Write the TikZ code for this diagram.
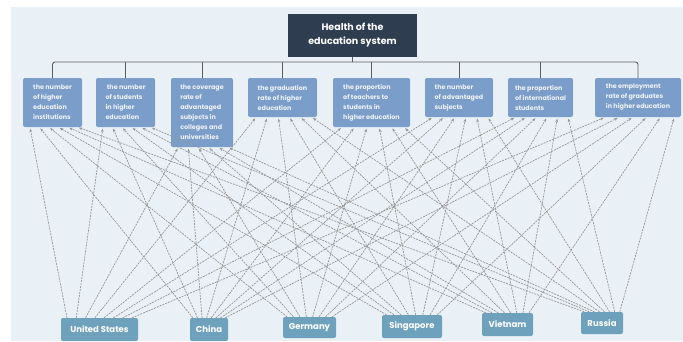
\documentclass[tikz,border=0pt]{standalone}
\usepackage{fontspec}
\setmainfont{Poppins}
\usetikzlibrary{arrows.meta,calc}

\definecolor{panel}{HTML}{EAF1F6}
\definecolor{rootfill}{HTML}{2F3D50}
\definecolor{indfill}{HTML}{7B9DC9}
\definecolor{ctyfill}{HTML}{6EA2BC}
\definecolor{linkgray}{HTML}{959595}
\definecolor{treegray}{HTML}{585D63}

\tikzset{
  rootbox/.style={fill=rootfill, text=white, align=center, inner sep=0pt,
    font=\bfseries\fontsize{9.5}{14}\selectfont,
    minimum width=129pt, minimum height=43pt},
  indbox/.style={fill=indfill, rounded corners=2pt, text=white!88!indfill,
    align=left, inner sep=0pt, font=\bfseries\fontsize{6.4}{10}\selectfont},
  ctybox/.style={fill=ctyfill, rounded corners=2pt, text=white, inner sep=0pt,
    font=\bfseries\fontsize{8.5}{10}\selectfont},
  treeline/.style={draw=treegray, line width=0.9pt, rounded corners=2.5pt},
  linkline/.style={draw=linkgray, line width=0.7pt, dash pattern=on 2pt off 1pt,
    shorten >=1.5pt, -{Stealth[length=3.5pt,width=2.8pt]}},
}

\begin{document}
\begin{tikzpicture}[x=1pt,y=-1pt]
\useasboundingbox (0,0) rectangle (683,341);
\fill[panel] (11,7) rectangle (683,341);

% root
\node[rootbox] (root) at (352.5,35.5) {Health of the\\education system};

% indicators
\node[indbox, minimum width=59pt, minimum height=49pt] (i1) at (52.5,102.5)
  {the number\\of higher\\education\\institutions};
\node[indbox, minimum width=59pt, minimum height=49pt] (i2) at (125.5,102.5)
  {\ the number\\of students\\in higher\\education};
\node[indbox, minimum width=62pt, minimum height=69pt] (i3) at (202,112.5)
  {the coverage\\rate of\\advantaged\\subjects in\\colleges and\\universities};
\node[indbox, minimum width=69pt, minimum height=39pt] (i4) at (282.5,97.5)
  {the graduation\\rate of higher\\education};
\node[indbox, minimum width=77pt, minimum height=49pt] (i5) at (371.5,102.5)
  {the proportion\\of teachers to\\students in\\higher education};
\node[indbox, minimum width=68pt, minimum height=39pt] (i6) at (459,97.5)
  {the number\\of advantaged\\subjects};
\node[indbox, minimum width=65pt, minimum height=39pt] (i7) at (540.5,97.5)
  {the proportion\\of international\\students};
\node[indbox, minimum width=86pt, minimum height=39pt] (i8) at (638,97.5)
  {the employment\\rate of graduates\\in higher education};

% tree connectors
\coordinate (bus) at (0,62);
\draw[treeline] (i1.north) |- (bus -| i8.north) -- (i8.north);
\foreach \k in {2,...,7} \draw[treeline] (i\k.north) -- (i\k.north |- bus);
\draw[treeline] (root.south) -- (root.south |- bus);

% countries
\node[ctybox, minimum width=77pt, minimum height=23pt] (us) at (99.5,329.5) {United States};
\node[ctybox, minimum width=38pt, minimum height=23pt] (cn) at (209,329.5) {China};
\node[ctybox, minimum width=53pt, minimum height=21pt] (de) at (309.5,327.5) {Germany};
\node[ctybox, minimum width=60pt, minimum height=23pt] (sg) at (412,326.5) {Singapore};
\node[ctybox, minimum width=51pt, minimum height=23pt] (vn) at (507.5,324.5) {Vietnam};
\node[ctybox, minimum width=42pt, minimum height=22pt] (ru) at (602,323) {Russia};

% every country points to every indicator
\foreach \c [count=\j from 0] in {us,cn,de,sg,vn,ru} {
  \foreach \i in {1,...,8} {
    \pgfmathsetmacro\fs{0.08+0.84*(\i-1)/7}
    \pgfmathsetmacro\fe{0.12+0.8*\j/5}
    \draw[linkline] ($(\c.north west)!\fs!(\c.north east)$)
      -- ($(i\i.south west)!\fe!(i\i.south east)$);
  }
}
\end{tikzpicture}
\end{document}
